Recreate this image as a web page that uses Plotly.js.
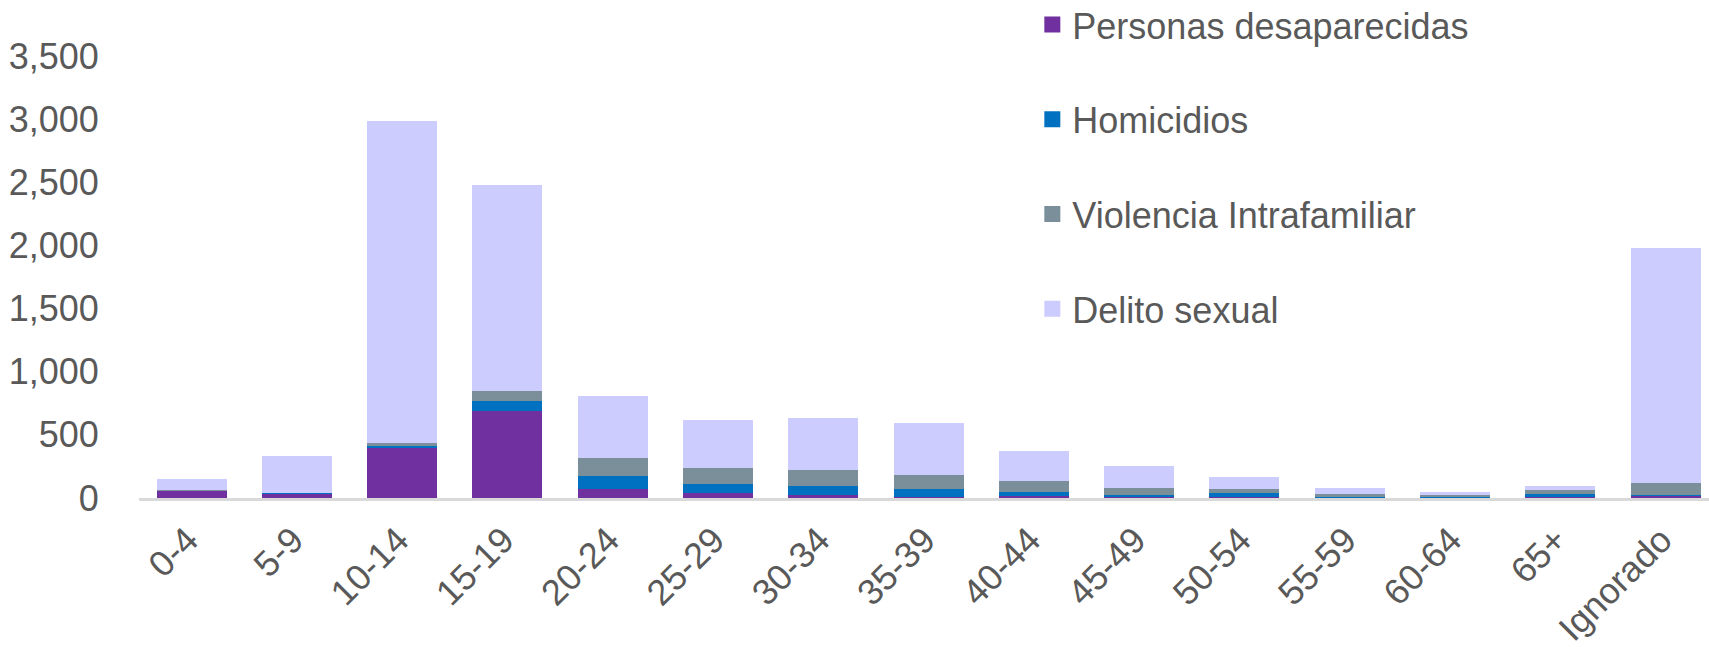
<!DOCTYPE html>
<html>
<head>
<meta charset="utf-8">
<script src="https://cdn.plot.ly/plotly-3.0.1.min.js"></script>
<style>html,body{margin:0;padding:0;background:#fff;}#chart{width:1709px;height:647px;}</style>
</head>
<body>
<div id="chart"></div>
<script>
const categories = ["0-4","5-9","10-14","15-19","20-24","25-29","30-34","35-39","40-44","45-49","50-54","55-59","60-64","65+","Ignorado"];
const personasDesaparecidas = [52, 29, 395, 688, 68, 37, 24, 10, 13, 5, 8, 2, 1, 5, 16];
const homicidios = [2, 8, 16, 77, 104, 71, 68, 61, 35, 19, 32, 8, 4, 24, 10];
const violenciaIntrafamiliar = [6, 5, 27, 79, 142, 127, 127, 108, 87, 52, 28, 19, 16, 31, 90];
const delitoSexual = [91, 292, 2549, 1633, 496, 380, 411, 413, 238, 175, 99, 50, 24, 38, 1861];
const seriesNames = ["Personas desaparecidas", "Homicidios", "Violencia Intrafamiliar", "Delito sexual"];
const seriesColors = ["#7030A0", "#0070C0", "#7A8F99", "#CCCCFF"];
const seriesValues = [personasDesaparecidas, homicidios, violenciaIntrafamiliar, delitoSexual];

const barTraces = seriesValues.map((vals, i) => ({
  type: "bar",
  x: categories,
  y: vals,
  name: seriesNames[i],
  legendgroup: "g" + i,
  showlegend: false,
  marker: {color: seriesColors[i], line: {width: 0}},
  hoverinfo: "x+y+name"
}));

// legend-only entries (larger square swatches like the original)
const legendTraces = seriesNames.map((name, i) => ({
  type: "scatter",
  mode: "markers",
  x: [categories[0]],
  y: [null],
  name: name,
  legendgroup: "g" + i,
  showlegend: true,
  marker: {symbol: "square", size: 16, color: seriesColors[i], line: {width: 0}},
  hoverinfo: "skip"
}));

const font = {family: "Liberation Sans, Arial, sans-serif", size: 36, color: "#595959"};

const layout = {
  width: 1709, height: 647,
  margin: {l: 139, r: 0, t: 56, b: 149, pad: 0, autoexpand: false},
  paper_bgcolor: "#ffffff",
  plot_bgcolor: "#ffffff",
  barmode: "stack",
  bargap: 0.335,
  font: font,
  showlegend: true,
  legend: {
    x: 0.569, y: 1.139, xanchor: "left", yanchor: "top",
    traceorder: "grouped",
    tracegroupgap: 45,
    itemsizing: "trace",
    maxheight: 600,
    font: font,
    bgcolor: "rgba(0,0,0,0)",
    itemclick: false
  },
  xaxis: {
    type: "category",
    range: [-0.5, 14.413],
    tickangle: -45,
    tickfont: font,
    ticklabelshift: -4,
    showline: true, linecolor: "#D9D9D9", linewidth: 2.5,
    ticks: "outside", ticklen: 4, tickcolor: "rgba(0,0,0,0)",
    showgrid: false, zeroline: false, fixedrange: true
  },
  yaxis: {
    range: [0, 3500],
    tickvals: [0, 500, 1000, 1500, 2000, 2500, 3000, 3500],
    tickformat: ",d",
    tickfont: font,
    showgrid: false, zeroline: false, showline: false,
    ticks: "outside", ticklen: 32, tickcolor: "rgba(0,0,0,0)",
    fixedrange: true
  }
};

Plotly.newPlot("chart", barTraces.concat(legendTraces), layout, {displayModeBar: false, staticPlot: true});
</script>
</body>
</html>
